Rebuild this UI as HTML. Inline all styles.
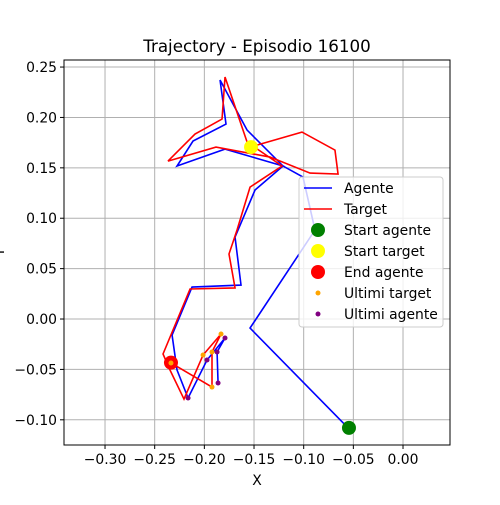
<!DOCTYPE html>
<html><head><meta charset="utf-8"><style>
body{margin:0;background:#fff}
text{font-family:"DejaVu Sans","Liberation Sans",sans-serif;fill:#000}
</style></head><body>
<svg id="chart" width="500" height="500" xmlns="http://www.w3.org/2000/svg">
<rect width="500" height="500" fill="#fff"/>
<text x="257" y="52" font-size="16.7" text-anchor="middle">Trajectory - Episodio 16100</text>
<text x="257" y="485" font-size="13.9" text-anchor="middle">X</text>
<text x="4" y="252" font-size="13.9" text-anchor="middle" transform="rotate(-90 4 252)">Y</text>
<g id="grid"></g><g id="series"></g><g id="ticks"></g>
<rect x="64" y="60" width="386" height="385" fill="none" stroke="#000" stroke-width="1"/>
<g id="legend"></g>
</svg>
<script>
const xTicks=[-0.30,-0.25,-0.20,-0.15,-0.10,-0.05,0.00];
const yTicks=[-0.10,-0.05,0.00,0.05,0.10,0.15,0.20,0.25];
const agentX=[-0.0554,-0.154,-0.0886,-0.1007,-0.1208,-0.157,-0.1842,-0.1782,-0.2114,-0.2275,-0.1792,-0.1208,-0.149,-0.1691,-0.1631,-0.2124,-0.2325,-0.2275,-0.2164,-0.1973,-0.1792,-0.1872,-0.1862];
const agentY=[-0.108,-0.009,0.0883,0.1409,0.1518,0.1875,0.2371,0.1934,0.1766,0.1518,0.1686,0.1518,0.128,0.0813,0.0337,0.0317,-0.0159,-0.0506,-0.0784,-0.0407,-0.0188,-0.0327,-0.0635];
const targetX=[-0.154,-0.1017,-0.0685,-0.0654,-0.0936,-0.1339,-0.1883,-0.2366,-0.2094,-0.1822,-0.1792,-0.157,-0.1218,-0.154,-0.1671,-0.1752,-0.1691,-0.2144,-0.2416,-0.2346,-0.2205,-0.2013,-0.1832,-0.1923,-0.1923,-0.2336];
const targetY=[0.1706,0.1855,0.1676,0.1438,0.1448,0.1607,0.1706,0.1567,0.1835,0.1984,0.2401,0.1756,0.1518,0.1309,0.0883,0.0645,0.0308,0.0298,-0.0347,-0.0506,-0.0794,-0.0357,-0.0149,-0.0327,-0.0675,-0.0436];
const lastTargetX=[-0.2013,-0.1832,-0.1923,-0.1923,-0.2336];
const lastTargetY=[-0.0357,-0.0149,-0.0327,-0.0675,-0.0436];
const lastAgentX=[-0.2164,-0.1973,-0.1792,-0.1872,-0.1862];
const lastAgentY=[-0.0784,-0.0407,-0.0188,-0.0327,-0.0635];
const startAgent=[-0.0544,-0.108];
const startTarget=[-0.153,0.1706];
const endAgent=[-0.2336,-0.0433];

const NS="http://www.w3.org/2000/svg";
const L=64,R=450,T=60,B=445,XMIN=-0.3413,XMAX=0.0473,YMIN=-0.125,YMAX=0.257;
function sx(v){return L+(v-XMIN)/(XMAX-XMIN)*(R-L);}
function sy(v){return B-(v-YMIN)/(YMAX-YMIN)*(B-T);}
function mk(tag,attrs,parent){const e=document.createElementNS(NS,tag);for(const k in attrs)e.setAttribute(k,attrs[k]);parent.appendChild(e);return e;}
const grid=document.getElementById('grid'),ticks=document.getElementById('ticks'),ser=document.getElementById('series'),leg=document.getElementById('legend');
xTicks.forEach(v=>{const x=sx(v);
 let g=mk('line',{x1:x,x2:x,y1:T,y2:B,stroke:'#b0b0b0','stroke-width':1},grid);
 
 
 let t=mk('line',{x1:x,x2:x,y1:B,y2:B+4,stroke:'#000'},ticks);
 
 
 let l=mk('text',{x:x,y:B+19,'font-size':13.9,'text-anchor':'middle'},ticks);l.textContent=v.toFixed(2).replace('-','−');
 
 
});
yTicks.forEach(v=>{const y=sy(v);
 let g=mk('line',{x1:L,x2:R,y1:y,y2:y,stroke:'#b0b0b0','stroke-width':1},grid);
 
 
 let t=mk('line',{x1:L-4,x2:L,y1:y,y2:y,stroke:'#000'},ticks);
 
 
 let l=mk('text',{x:L-7,y:y+5,'font-size':13.9,'text-anchor':'end'},ticks);l.textContent=v.toFixed(2).replace('-','−');
 
 
});
function pts(xs,ys){return xs.map((x,i)=>sx(x)+','+sy(ys[i])).join(' ');}
let pa=mk('polyline',{points:pts(agentX,agentY),fill:'none',stroke:'#0000ff','stroke-width':1.6},ser);


let pt=mk('polyline',{points:pts(targetX,targetY),fill:'none',stroke:'#ff0000','stroke-width':1.6},ser);


let c1=mk('circle',{cx:sx(startAgent[0]),cy:sy(startAgent[1]),r:7,fill:'green'},ser);


let c2=mk('circle',{cx:sx(startTarget[0]),cy:sy(startTarget[1]),r:7,fill:'yellow'},ser);


let c3=mk('circle',{cx:sx(endAgent[0]),cy:sy(endAgent[1]),r:7,fill:'red'},ser);


lastTargetX.forEach((x,i)=>{let c=mk('circle',{cx:sx(x),cy:sy(lastTargetY[i]),r:2.5,fill:'orange'},ser);
 
 });
lastAgentX.forEach((x,i)=>{let c=mk('circle',{cx:sx(x),cy:sy(lastAgentY[i]),r:2.5,fill:'purple'},ser);
 
 });
let box=mk('rect',{x:299,y:177,width:144,height:150,rx:3,fill:'#fff','fill-opacity':0.8,stroke:'#ccc'},leg);


const entries=[['Agente','line','#0000ff'],['Target','line','#ff0000'],['Start agente','big','green'],['Start target','big','yellow'],['End agente','big','red'],['Ultimi target','small','orange'],['Ultimi agente','small','purple']];
entries.forEach((e,i)=>{const y=188+i*21;
 const g=mk('g',{},leg);
 
 
 if(e[1]=='line')mk('line',{x1:304,x2:332,y1:y,y2:y,stroke:e[2],'stroke-width':1.6},g);
 else mk('circle',{cx:318,cy:y,r:e[1]=='big'?7:2.5,fill:e[2]},g);
 const t=mk('text',{x:344,y:y+5,'font-size':13.9},g);t.textContent=e[0];
});
</script>
</body></html>
